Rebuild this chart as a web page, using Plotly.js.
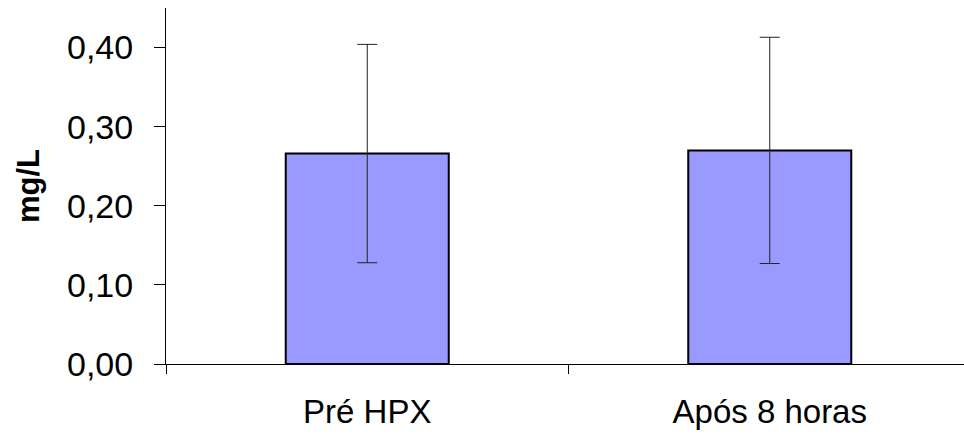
<!DOCTYPE html>
<html>
<head>
<meta charset="utf-8">
<script src="https://cdn.plot.ly/plotly-3.0.1.min.js"></script>
<style>html,body{margin:0;padding:0;background:#fff;}#chart{width:964px;height:436px;}</style>
</head>
<body>
<div id="chart"></div>
<script>
const categories = ["Pré HPX", "Após 8 horas"];
const means = [0.266, 0.270];
const errors = [0.138, 0.143];
const yTickValues = [0, 0.1, 0.2, 0.3, 0.4];

const trace = {
  type: 'bar',
  x: categories,
  y: means,
  width: 0.405,
  marker: {color: '#9999FF', line: {color: '#000000', width: 2}},
  error_y: {type: 'data', array: errors, visible: true, color: '#222222', thickness: 1, width: 10},
  hoverinfo: 'none'
};

const layout = {
  width: 964,
  height: 436,
  margin: {l: 166, r: 0, t: 8, b: 72, pad: 0},
  paper_bgcolor: '#ffffff',
  plot_bgcolor: '#ffffff',
  separators: ',.',
  showlegend: false,
  font: {family: 'Liberation Sans, Arial, sans-serif', color: '#000000', size: 34},
  xaxis: {
    type: 'category',
    range: [-0.5, 1.4826],
    showline: true,
    linecolor: '#000000',
    linewidth: 1,
    ticks: 'outside',
    tickson: 'boundaries',
    ticklen: 9,
    tickcolor: '#000000',
    showgrid: false,
    zeroline: false,
    tickfont: {size: 33},
    ticklabelstandoff: 18
  },
  yaxis: {
    range: [0, 0.45],
    tickvals: yTickValues,
    tickformat: '.2f',
    showline: true,
    linecolor: '#000000',
    linewidth: 1,
    ticks: 'outside',
    ticklen: 11,
    tickcolor: '#000000',
    showgrid: false,
    zeroline: false,
    tickfont: {size: 34},
    ticklabelstandoff: 14,
    title: {text: '<b>mg/L</b>', font: {size: 31}, standoff: 18}
  }
};

Plotly.newPlot('chart', [trace], layout, {staticPlot: true, displayModeBar: false});
</script>
</body>
</html>
